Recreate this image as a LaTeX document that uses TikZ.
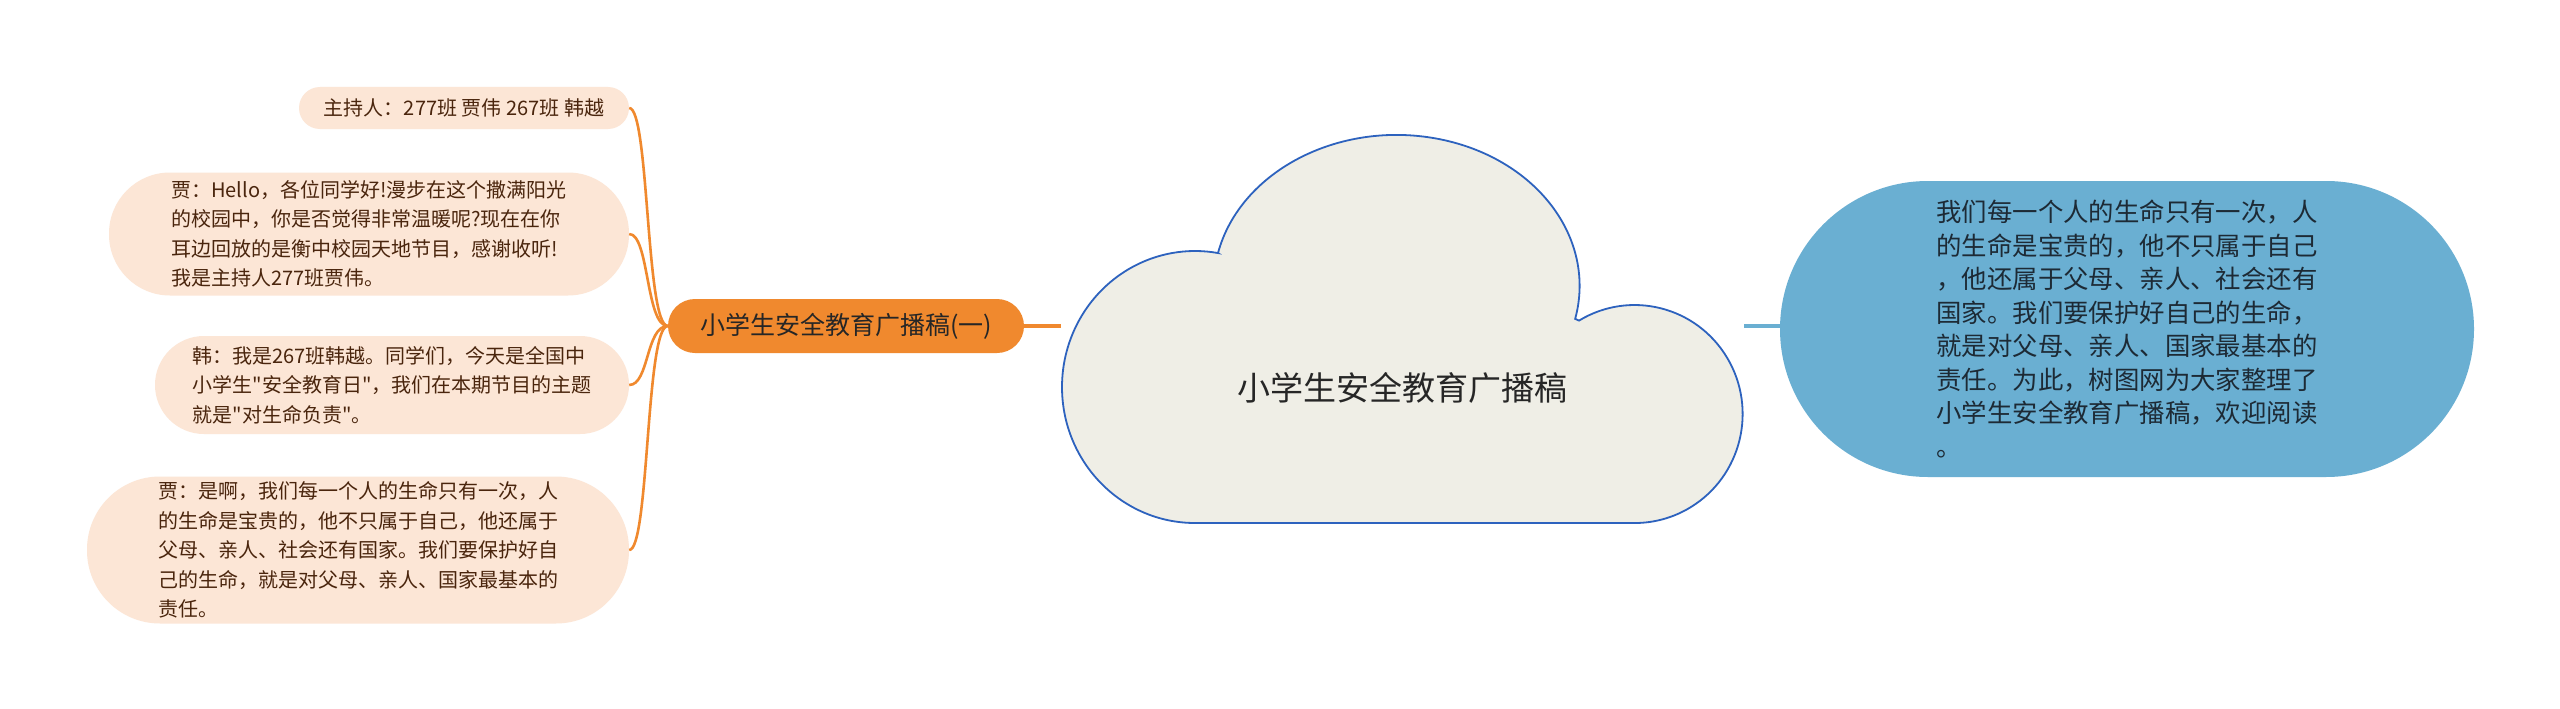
\documentclass[tikz,border=0pt]{standalone}
\usepackage{fontspec}
\setmainfont[Ligatures=TeXOff]{Noto Sans CJK SC}
\definecolor{orangeC}{HTML}{F0892E}
\definecolor{leafF}{HTML}{FCE6D6}
\definecolor{leafT}{HTML}{4A250D}
\definecolor{cloudF}{HTML}{EFEEE6}
\definecolor{cloudD}{HTML}{2D62BE}
\definecolor{blueF}{HTML}{6AAFD2}
\definecolor{blueT}{HTML}{1D2A35}
\tikzset{
  leaf/.style={fill=leafF, text=leafT, font=\fontsize{20pt}{29.5pt}\selectfont, align=left, inner sep=0pt},
  branchbox/.style={fill=orangeC, text=black!85, font=\fontsize{25pt}{30pt}\selectfont, inner sep=0pt,
    minimum width=356pt, minimum height=54pt, rounded corners=27pt},
  bluebox/.style={fill=blueF, text=blueT, font=\fontsize{25.4pt}{33.5pt}\selectfont, align=left, inner sep=0pt,
    minimum width=694pt, minimum height=296pt, rounded corners=148pt},
  leafline/.style={draw=orangeC, line width=2.6pt},
}
\begin{document}
\begin{tikzpicture}[x=1pt,y=-1pt]
\fill[white] (0,0) rectangle (2560,709);
\useasboundingbox (0,0) rectangle (2560,709);

% leaves
\node[leaf, minimum width=330pt, minimum height=42pt, rounded corners=21pt] (l1) at (464,108)
  {主持人：277班 贾伟 267班 韩越};
\node[leaf, minimum width=520pt, minimum height=123pt, rounded corners=61pt] (l2) at (369,234)
  {贾：Hello，各位同学好!漫步在这个撒满阳光\\的校园中，你是否觉得非常温暖呢?现在在你\\耳边回放的是衡中校园天地节目，感谢收听!\\我是主持人277班贾伟。};
\node[leaf, minimum width=474pt, minimum height=98pt, rounded corners=49pt] (l3) at (392,385)
  {韩：我是267班韩越。同学们，今天是全国中\\小学生"安全教育日"，我们在本期节目的主题\\就是"对生命负责"。};
\node[leaf, minimum width=542pt, minimum height=147pt, rounded corners=73pt] (l4) at (358,550)
  {贾：是啊，我们每一个人的生命只有一次，人\\的生命是宝贵的，他不只属于自己，他还属于\\父母、亲人、社会还有国家。我们要保护好自\\己的生命，就是对父母、亲人、国家最基本的\\责任。};

% branch
\node[branchbox] (br) at (846,326) {小学生安全教育广播稿(一)};

% leaf connectors
\foreach \l in {l1,l2,l3,l4}{
  \draw[leafline] (\l.east) .. controls +(20,0) and +(-22,0) .. (br.west);
}

% cloud
\draw[fill=cloudF, draw=cloudD, line width=1.8pt]
  (1195,523) arc[start angle=90, end angle=280, x radius=133, y radius=136]
  -- (1218,253) arc[start angle=192.6, end angle=372.6, x radius=183, y radius=151]
  -- (1579,320.6) arc[start angle=239, end angle=450, x radius=108, y radius=109]
  -- cycle;
\node[font=\fontsize{33pt}{38pt}\selectfont, text=black!85] (cloud) at (1402,388) {小学生安全教育广播稿};
\coordinate (cloudW) at (1061,326);
\coordinate (cloudE) at (1744,326);

% right box
\node[bluebox] (blue) at (2127,329)
  {我们每一个人的生命只有一次，人\\的生命是宝贵的，他不只属于自己\\，他还属于父母、亲人、社会还有\\国家。我们要保护好自己的生命，\\就是对父母、亲人、国家最基本的\\责任。为此，树图网为大家整理了\\小学生安全教育广播稿，欢迎阅读\\。};

% main connectors
\draw[draw=orangeC, line width=4pt] (br.east) -- (cloudW);
\draw[draw=blueF, line width=4pt] (cloudE) -- (cloudE -| blue.west);
\end{tikzpicture}
\end{document}
